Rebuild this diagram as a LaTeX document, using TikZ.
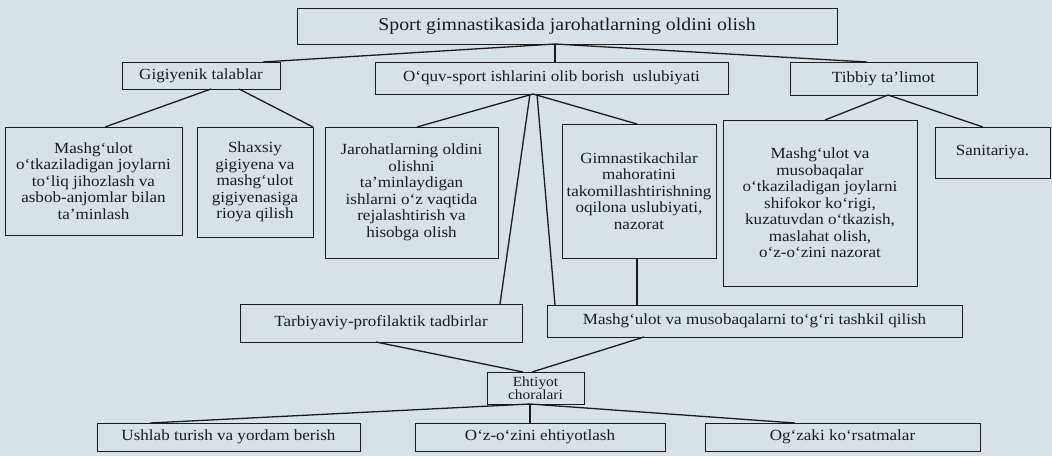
\documentclass[tikz,border=0pt]{standalone}
\usepackage{fontspec}
\setmainfont[FakeStretch=1.1]{Liberation Serif}
\definecolor{Ink}{HTML}{1C1C1C}
\definecolor{PaperBlue}{HTML}{D8E1E6}
\tikzset{
  orgBox/.style={rectangle,draw=Ink,line width=.9pt,fill=PaperBlue,text=Ink,
    align=center,inner sep=1pt,outer sep=0pt,font=\fontsize{15.5}{16.5}\selectfont},
  orgTitle/.style={orgBox,font=\fontsize{18}{20}\selectfont},
  orgSmall/.style={orgBox,font=\fontsize{14}{13.5}\selectfont},
  orgLink/.style={draw=Ink,line width=1.3pt}
}

\begin{document}
\begin{tikzpicture}[x=1pt,y=-1pt]
  % Scanned page background
  \fill[PaperBlue] (0,0) rectangle (1052,456);
  \useasboundingbox (0,0) rectangle (1052,456);

  % Title and three main branches
  \node[orgTitle,minimum width=540pt,minimum height=36pt] (top) at (567,26) {Sport gimnastikasida jarohatlarning oldini olish};
  \node[orgBox,minimum width=158pt,minimum height=27pt] (gig) at (201,75.5) {Gigiyenik talablar};
  \node[orgBox,minimum width=353pt,minimum height=32pt] (oquv) at (551.5,78) {O‘quv-sport ishlarini olib borish\ \ uslubiyati};
  \node[orgBox,minimum width=187pt,minimum height=33pt] (tib) at (883.5,78.5) {Tibbiy ta’limot};
  \draw[orgLink] ([xshift=-12pt]top.south)--([xshift=62pt]gig.north);
  \draw[orgLink] ([xshift=-12pt]top.south)--([xshift=3.5pt]oquv.north);
  \draw[orgLink] ([xshift=-12pt]top.south)--([xshift=-16.5pt]tib.north);

  % Third row
  \node[orgBox,minimum width=177pt,minimum height=108pt] (mjoy) at (93.5,181) {Mashg‘ulot\\o‘tkaziladigan joylarni\\to‘liq jihozlash va\\asbob-anjomlar bilan\\ta’minlash};
  \node[orgBox,minimum width=116pt,minimum height=110pt] (shax) at (255,182) {Shaxsiy\\gigiyena va\\mashg‘ulot\\gigiyenasiga\\rioya qilish};
  \node[orgBox,minimum width=173pt,minimum height=131pt] (jar) at (411.5,192.5) {Jarohatlarning oldini\\olishni\\ta’minlaydigan\\ishlarni o‘z vaqtida\\rejalashtirish va\\hisobga olish};
  \node[orgBox,minimum width=154pt,minimum height=134pt] (gimn) at (639,191) {Gimnastikachilar\\mahoratini\\takomillashtirishning\\oqilona uslubiyati,\\nazorat};
  \node[orgBox,minimum width=194pt,minimum height=166pt] (mus) at (820,203) {Mashg‘ulot va\\musobaqalar\\o‘tkaziladigan joylarni\\shifokor ko‘rigi,\\kuzatuvdan o‘tkazish,\\maslahat olish,\\o‘z-o‘zini nazorat};
  \node[orgBox,minimum width=115pt,minimum height=51pt] (san) at (992.5,152.5) {Sanitariya.};
  \draw[orgLink] ([xshift=10pt]gig.south)--([xshift=11.5pt]mjoy.north);
  \draw[orgLink] ([xshift=38pt]gig.south)--(shax.north east);
  \draw[orgLink] ([xshift=-18.5pt]oquv.south)--([xshift=5.5pt]jar.north);
  \draw[orgLink] ([xshift=-18.5pt]oquv.south)--([xshift=-2pt]gimn.north);
  \draw[orgLink] ([xshift=4.5pt]tib.south)--([xshift=5pt]mus.north);
  \draw[orgLink] ([xshift=4.5pt]tib.south)--([xshift=-9.5pt]san.north);

  % Fourth row and precautions
  \node[orgBox,minimum width=282pt,minimum height=38pt] (tarb) at (381,323) {Tarbiyaviy-profilaktik tadbirlar};
  \node[orgBox,minimum width=415pt,minimum height=32pt] (tash) at (754.5,321) {Mashg‘ulot va musobaqalarni to‘g‘ri tashkil qilish};
  \draw[orgLink] ([xshift=-21.5pt]oquv.south)--([xshift=119pt]tarb.north);
  \draw[orgLink] ([xshift=-14.5pt]oquv.south)--([xshift=8pt]tash.north west);
  \draw[orgLink] ([xshift=-2pt]gimn.south)--([xshift=-2pt]gimn.south |- tash.north);

  \node[orgSmall,minimum width=97pt,minimum height=32pt] (ehti) at (535.5,388) {Ehtiyot\\choralari};
  \draw[orgLink] ([xshift=-5pt]tarb.south)--([xshift=-12.5pt]ehti.north);
  \draw[orgLink] ([xshift=-110.5pt]tash.south)--([xshift=-3.5pt]ehti.north);

  % Bottom row
  \node[orgBox,minimum width=263pt,minimum height=28pt] (ush) at (228.5,437) {Ushlab turish va yordam berish};
  \node[orgBox,minimum width=250pt,minimum height=28pt] (oz) at (540,437) {O‘z-o‘zini ehtiyotlash};
  \node[orgBox,minimum width=275pt,minimum height=28pt] (ogz) at (842.5,437) {Og‘zaki ko‘rsatmalar};
  \draw[orgLink] ([xshift=-5.5pt]ehti.south)--([xshift=-78.5pt]ush.north);
  \draw[orgLink] ([xshift=-5.5pt]ehti.south)--([xshift=-5.5pt]ehti.south |- oz.north);
  \draw[orgLink] ([xshift=-5.5pt]ehti.south)--([xshift=-47.5pt]ogz.north);
\end{tikzpicture}
\end{document}
